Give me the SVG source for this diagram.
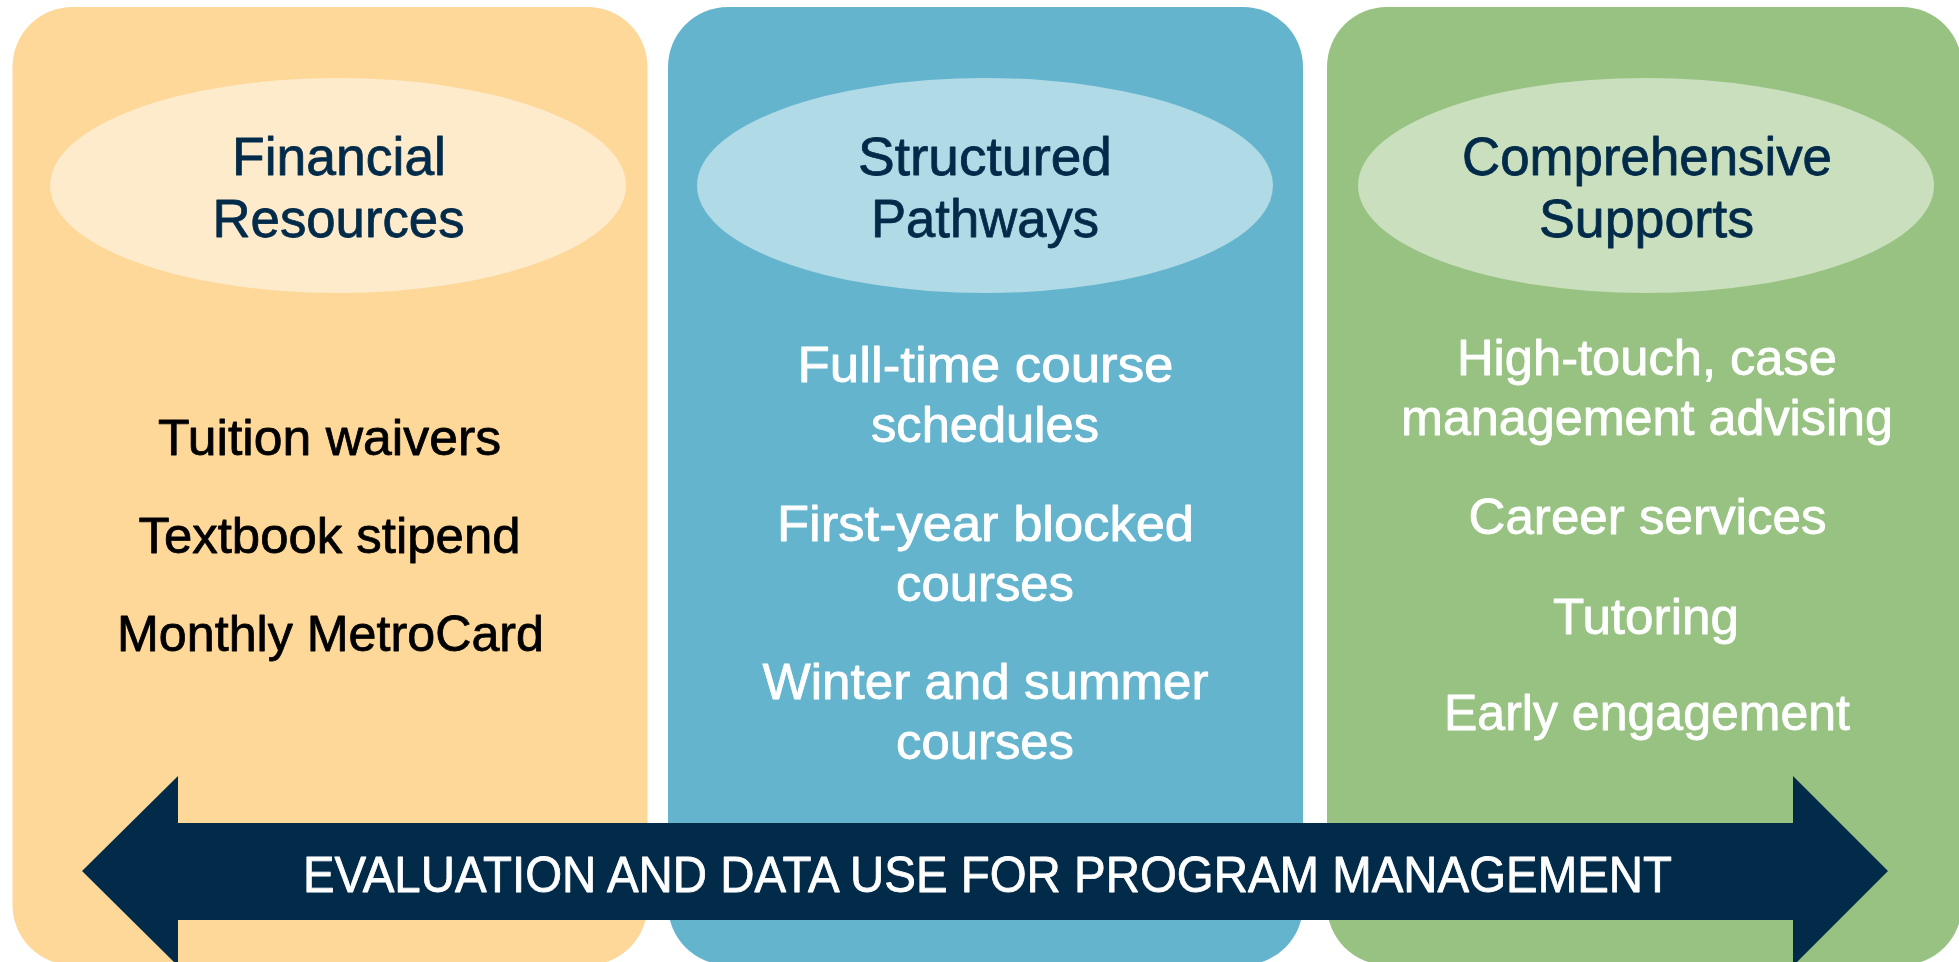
<svg xmlns="http://www.w3.org/2000/svg" width="1959" height="962" viewBox="0 0 1959 962">
<style>
text{font-family:"Liberation Sans",Arial,sans-serif;text-anchor:middle;stroke-width:0.8px;stroke-linejoin:round;}
.title{font-size:53px;fill:#022b4a;stroke:#022b4a;}
.body{font-size:50px;}
.dark{fill:#000000;stroke:#000000;}
.light{fill:#ffffff;stroke:#ffffff;}
.banner{font-size:50px;fill:#ffffff;stroke:#ffffff;}
</style>
<rect width="1959" height="962" fill="#ffffff"/>
<g id="financial">
<rect x="12.5" y="7" width="635" height="958" rx="60" ry="60" fill="#fed899"/>
<ellipse cx="338" cy="185.5" rx="288" ry="107.5" fill="#feebcc"/>
<text class="title" x="339" y="175" textLength="214" lengthAdjust="spacingAndGlyphs">Financial</text>
<text class="title" x="338.5" y="237" textLength="252" lengthAdjust="spacingAndGlyphs">Resources</text>
<text class="body dark" x="329.5" y="455" textLength="343" lengthAdjust="spacingAndGlyphs">Tuition waivers</text>
<text class="body dark" x="329.5" y="553" textLength="382" lengthAdjust="spacingAndGlyphs">Textbook stipend</text>
<text class="body dark" x="330.5" y="651" textLength="427" lengthAdjust="spacingAndGlyphs">Monthly MetroCard</text>
</g>
<g id="structured">
<rect x="668" y="7" width="635" height="958" rx="60" ry="60" fill="#65b4ce"/>
<ellipse cx="985" cy="185.5" rx="288" ry="107.5" fill="#b0dae6"/>
<text class="title" x="985" y="175" textLength="254" lengthAdjust="spacingAndGlyphs">Structured</text>
<text class="title" x="985" y="237" textLength="228" lengthAdjust="spacingAndGlyphs">Pathways</text>
<text class="body light" x="985.5" y="382" textLength="376" lengthAdjust="spacingAndGlyphs">Full-time course</text>
<text class="body light" x="985" y="442" textLength="228" lengthAdjust="spacingAndGlyphs">schedules</text>
<text class="body light" x="985.5" y="541" textLength="417" lengthAdjust="spacingAndGlyphs">First-year blocked</text>
<text class="body light" x="985" y="601" textLength="178" lengthAdjust="spacingAndGlyphs">courses</text>
<text class="body light" x="985.5" y="699" textLength="446" lengthAdjust="spacingAndGlyphs">Winter and summer</text>
<text class="body light" x="985" y="759" textLength="178" lengthAdjust="spacingAndGlyphs">courses</text>
</g>
<g id="comprehensive">
<rect x="1327" y="7" width="635" height="958" rx="60" ry="60" fill="#98c282"/>
<ellipse cx="1646" cy="185.5" rx="288" ry="107.5" fill="#cadfbd"/>
<text class="title" x="1647" y="175" textLength="370" lengthAdjust="spacingAndGlyphs">Comprehensive</text>
<text class="title" x="1646.5" y="237" textLength="215" lengthAdjust="spacingAndGlyphs">Supports</text>
<text class="body light" x="1647" y="375" textLength="380" lengthAdjust="spacingAndGlyphs">High-touch, case</text>
<text class="body light" x="1647" y="435" textLength="492" lengthAdjust="spacingAndGlyphs">management advising</text>
<text class="body light" x="1647.5" y="534" textLength="358" lengthAdjust="spacingAndGlyphs">Career services</text>
<text class="body light" x="1646" y="634" textLength="186" lengthAdjust="spacingAndGlyphs">Tutoring</text>
<text class="body light" x="1647" y="730" textLength="406" lengthAdjust="spacingAndGlyphs">Early engagement</text>
</g>
<g id="connectors">
<g id="evaluation-arrow">
<polygon points="82,871 178,776 178,823 1793,823 1793,776 1888,871 1793,966 1793,920 178,920 178,966" fill="#022b4a"/>
<text class="banner" x="987.5" y="892" textLength="1369" lengthAdjust="spacingAndGlyphs">EVALUATION AND DATA USE FOR PROGRAM MANAGEMENT</text>
</g>
</g>
</svg>
